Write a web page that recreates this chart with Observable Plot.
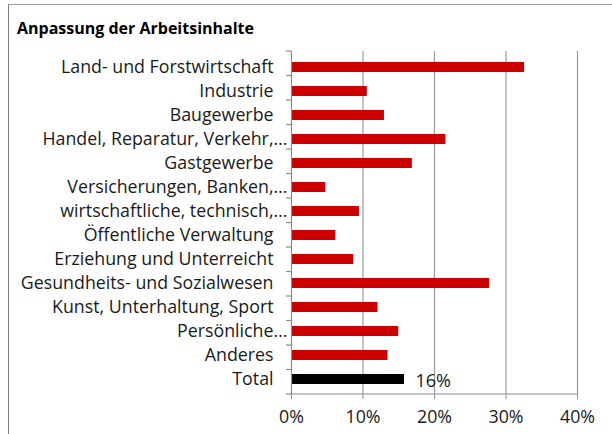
<!DOCTYPE html>
<html>
<head>
<meta charset="utf-8">
<script src="https://cdn.jsdelivr.net/npm/d3@7"></script>
<script src="https://cdn.jsdelivr.net/npm/@observablehq/plot@0.6"></script>
<style>
  html, body { margin: 0; padding: 0; background: #fff; }
  #wrap { position: relative; width: 612px; height: 434px; overflow: hidden; }
  #frame { position: absolute; left: 8px; top: 4px; width: 620px; height: 440px;
           border-left: 1px solid #7f7f7f; border-top: 1px solid #a0a0a0; }
  #title { position: absolute; left: 17px; top: 17px; font-family: "Open Sans", sans-serif;
           font-weight: bold; font-size: 16px; color: #000; white-space: nowrap; }
  #chart { position: absolute; left: 0; top: 0; }
</style>
</head>
<body>
<div id="wrap">
  <div id="frame"></div>
  <div id="title">Anpassung der Arbeitsinhalte</div>
  <div id="chart"></div>
</div>
<script>
const categories = [
  "Land- und Forstwirtschaft",
  "Industrie",
  "Baugewerbe",
  "Handel, Reparatur, Verkehr,…",
  "Gastgewerbe",
  "Versicherungen, Banken,…",
  "wirtschaftliche, technisch,…",
  "Öffentliche Verwaltung",
  "Erziehung und Unterreicht",
  "Gesundheits- und Sozialwesen",
  "Kunst, Unterhaltung, Sport",
  "Persönliche…",
  "Anderes",
  "Total"
];
const values = [0.326, 0.106, 0.130, 0.216, 0.169, 0.048, 0.095, 0.062, 0.087, 0.277, 0.121, 0.150, 0.135, 0.158];
const xTicks = [0, 0.1, 0.2, 0.3, 0.4];
const labelled = ["Total"];

const data = categories.map((c, i) => ({category: c, value: values[i]}));
const truncated = categories.filter(c => c.endsWith("…"));
const fontFam = "Open Sans, sans-serif";
const pct = d => Math.round(d * 100) + "%";
const M = {left: 291, right: 35, top: 51, bottom: 40};
const FS = 17.8;

const chart = Plot.plot({
  width: 612,
  height: 434,
  marginLeft: M.left,
  marginRight: M.right,
  marginTop: M.top,
  marginBottom: M.bottom,
  style: {fontFamily: fontFam, fontSize: FS + "px", color: "#1a1a1a", background: "transparent"},
  x: {domain: [0, 0.4], ticks: xTicks, tickFormat: pct, label: null},
  y: {domain: categories, paddingInner: 0.6, paddingOuter: 0.3, align: 0.5, label: null},
  marks: [
    Plot.gridX(xTicks.filter(t => t > 0), {stroke: "#9a9a9a", strokeOpacity: 1, strokeWidth: 1.2}),
    Plot.barX(data, {x: "value", y: "category",
      fill: d => d.category === "Total" ? "#000000" : "#cc0000"}),
    Plot.ruleX([0], {stroke: "#8c8c8c", strokeWidth: 1.2}),
    Plot.axisX({ticks: xTicks, tickFormat: pct, tickSize: 5, tickPadding: 11, stroke: "#8c8c8c",
      fontSize: FS, fill: "#1a1a1a", label: null}),
    Plot.axisY({tickSize: 0, tickPadding: 18, tickFormat: d => d.replace("…", ""),
      fontSize: FS, fill: "#1a1a1a", label: null}),
    Plot.text(truncated, {y: d => d, x: 0, text: () => "…", textAnchor: "start", dx: -18,
      fontSize: FS, fill: "#1a1a1a"}),
    Plot.text(data.filter(d => labelled.includes(d.category)), {x: "value", y: "category",
      text: d => pct(d.value), textAnchor: "start", dx: 11, dy: 2, fontSize: 18, fill: "#1a1a1a"})
  ]
});
document.getElementById("chart").appendChild(chart);

// band boundary ticks on the y axis and the bottom axis line
const svg = d3.select(chart);
const xScale = chart.scale("x");
const x0 = xScale.apply(0);
const yTop = M.top, yBottom = 434 - M.bottom;
const n = categories.length;
const g = svg.append("g").attr("stroke", "#8c8c8c").attr("stroke-width", 1.2);
for (let i = 0; i <= n; i++) {
  const y = yTop + (yBottom - yTop) * i / n;
  g.append("line").attr("x1", x0 - 5).attr("x2", x0).attr("y1", y).attr("y2", y);
}
g.append("line").attr("x1", x0).attr("x2", xScale.apply(0.4)).attr("y1", yBottom).attr("y2", yBottom);
</script>
</body>
</html>
